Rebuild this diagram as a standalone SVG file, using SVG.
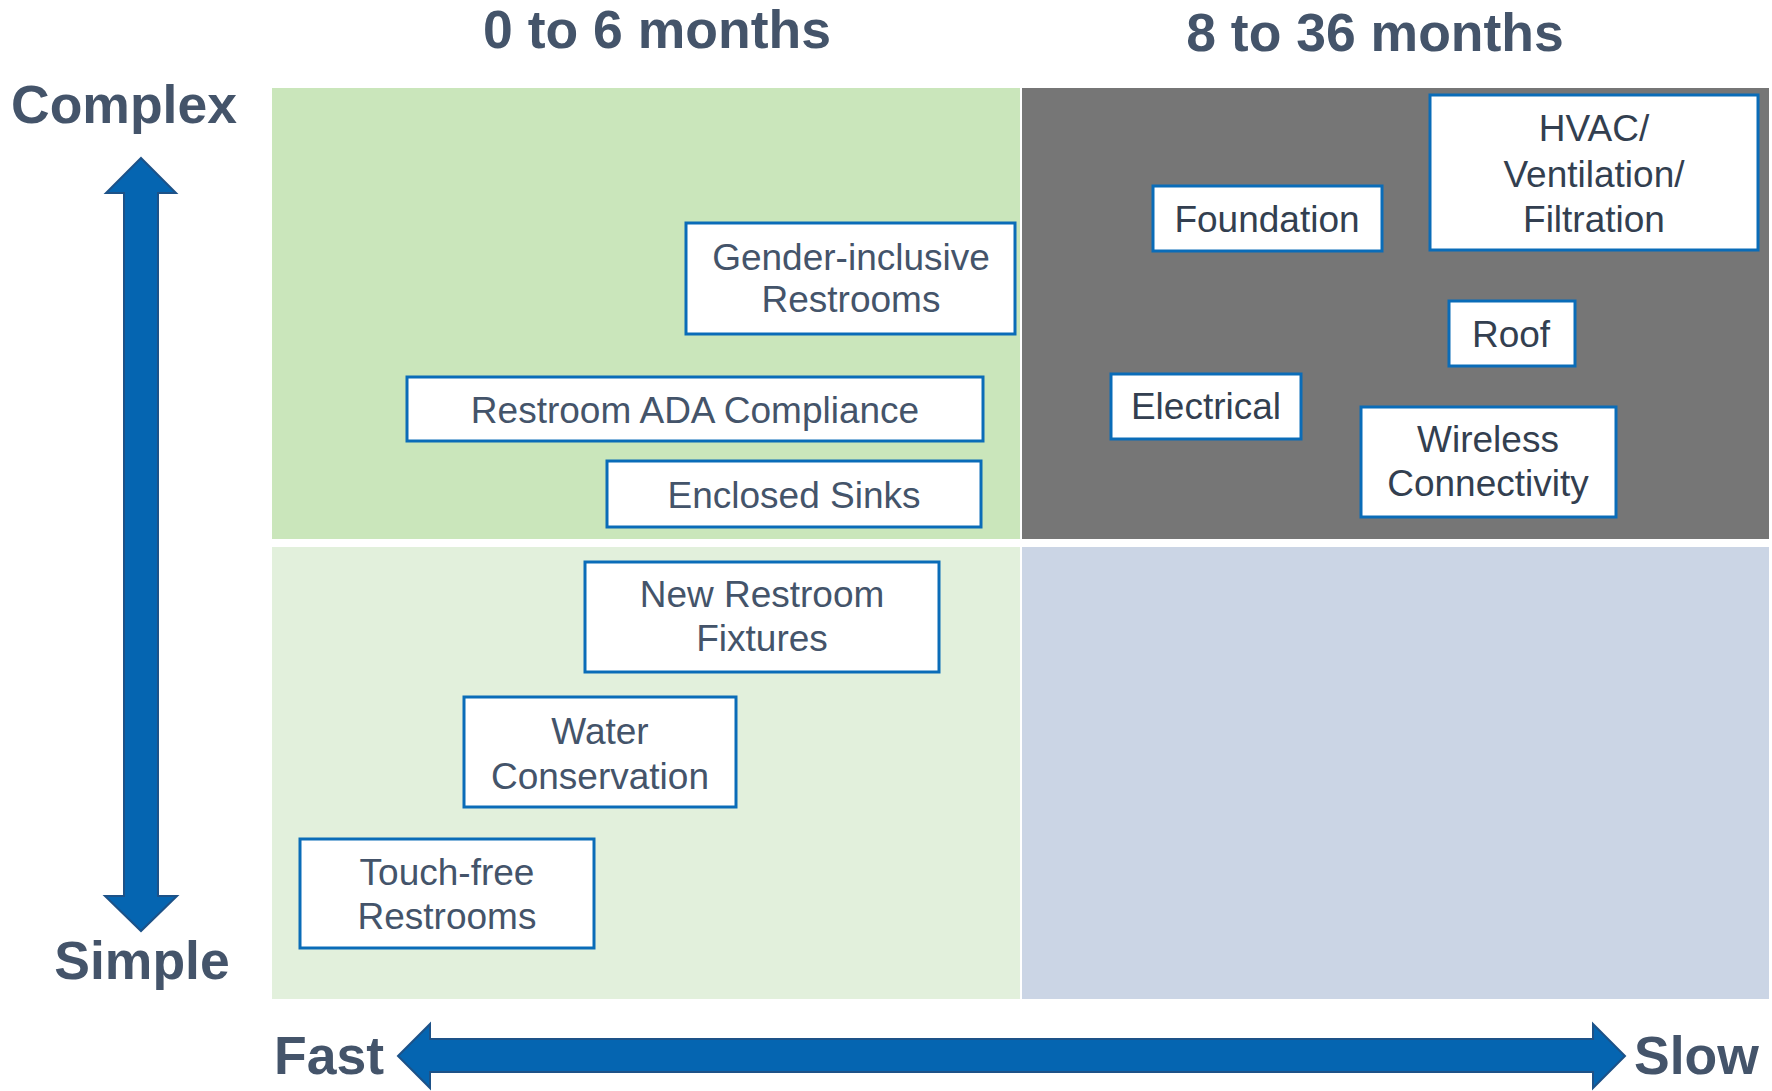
<svg xmlns="http://www.w3.org/2000/svg" width="1772" height="1091" viewBox="0 0 1772 1091">
<style>
.hdr{font-family:"Liberation Sans",Arial,sans-serif;font-weight:bold;font-size:53.5px;fill:#44546A}
.box{fill:#FFFFFF;stroke:#0A6CB8;stroke-width:3}
.lbl{font-family:"Liberation Sans",Arial,sans-serif;font-size:37px;fill:#44546A;text-anchor:middle}
.dk{fill:#333F50}
.arrow{fill:#0565B1;stroke:#1D5288;stroke-width:2;stroke-linejoin:miter}
</style>
<rect width="1772" height="1091" fill="#FFFFFF"/>
<g id="quadrants">
<rect x="272" y="88" width="748" height="451" fill="#CAE6BB"/>
<rect x="1022" y="88" width="747" height="451" fill="#767676"/>
<rect x="272" y="547" width="748" height="452" fill="#E2F0DC"/>
<rect x="1022" y="547" width="747" height="452" fill="#CBD5E5"/>
</g>
<g id="headers">
<text class="hdr" x="657" y="48" text-anchor="middle">0 to 6 months</text>
<text class="hdr" x="1375" y="51" text-anchor="middle">8 to 36 months</text>
<text class="hdr" x="124" y="123" text-anchor="middle">Complex</text>
<text class="hdr" x="142" y="979" text-anchor="middle">Simple</text>
<text class="hdr" x="274" y="1074">Fast</text>
<text class="hdr" x="1634" y="1074">Slow</text>
</g>
<g id="connectors">
<polygon class="arrow" points="141,158 176,193 158,193 158,896 177,896 141,931 105,896 124,896 124,193 106,193"/>
<polygon class="arrow" points="398,1056 430,1024 430,1039 1593,1039 1593,1024 1625,1056 1593,1088 1593,1072 430,1072 430,1088"/>
</g>
<g id="gender-inclusive">
<rect class="box" x="686" y="223" width="329" height="111"/>
<text class="lbl" x="851" y="270">Gender-inclusive</text>
<text class="lbl" x="851" y="312">Restrooms</text>
</g>
<g id="ada">
<rect class="box" x="407" y="377" width="576" height="64"/>
<text class="lbl" x="695" y="423">Restroom ADA Compliance</text>
</g>
<g id="sinks">
<rect class="box" x="607" y="461" width="374" height="66"/>
<text class="lbl" x="794" y="508">Enclosed Sinks</text>
</g>
<g id="fixtures">
<rect class="box" x="585" y="562" width="354" height="110"/>
<text class="lbl" x="762" y="607">New Restroom</text>
<text class="lbl" x="762" y="651">Fixtures</text>
</g>
<g id="water">
<rect class="box" x="464" y="697" width="272" height="110"/>
<text class="lbl" x="600" y="744">Water</text>
<text class="lbl" x="600" y="789">Conservation</text>
</g>
<g id="touchfree">
<rect class="box" x="300" y="839" width="294" height="109"/>
<text class="lbl" x="447" y="885">Touch-free</text>
<text class="lbl" x="447" y="929">Restrooms</text>
</g>
<g id="foundation">
<rect class="box" x="1153" y="186" width="229" height="65"/>
<text class="lbl dk" x="1267" y="232">Foundation</text>
</g>
<g id="hvac">
<rect class="box" x="1430" y="95" width="328" height="155"/>
<text class="lbl dk" x="1594" y="141">HVAC/</text>
<text class="lbl dk" x="1594" y="187">Ventilation/</text>
<text class="lbl dk" x="1594" y="232">Filtration</text>
</g>
<g id="roof">
<rect class="box" x="1449" y="301" width="126" height="65"/>
<text class="lbl dk" x="1511" y="347">Roof</text>
</g>
<g id="electrical">
<rect class="box" x="1111" y="374" width="190" height="65"/>
<text class="lbl dk" x="1206" y="419">Electrical</text>
</g>
<g id="wireless">
<rect class="box" x="1361" y="407" width="255" height="110"/>
<text class="lbl dk" x="1488" y="452">Wireless</text>
<text class="lbl dk" x="1488" y="496">Connectivity</text>
</g>
</svg>
